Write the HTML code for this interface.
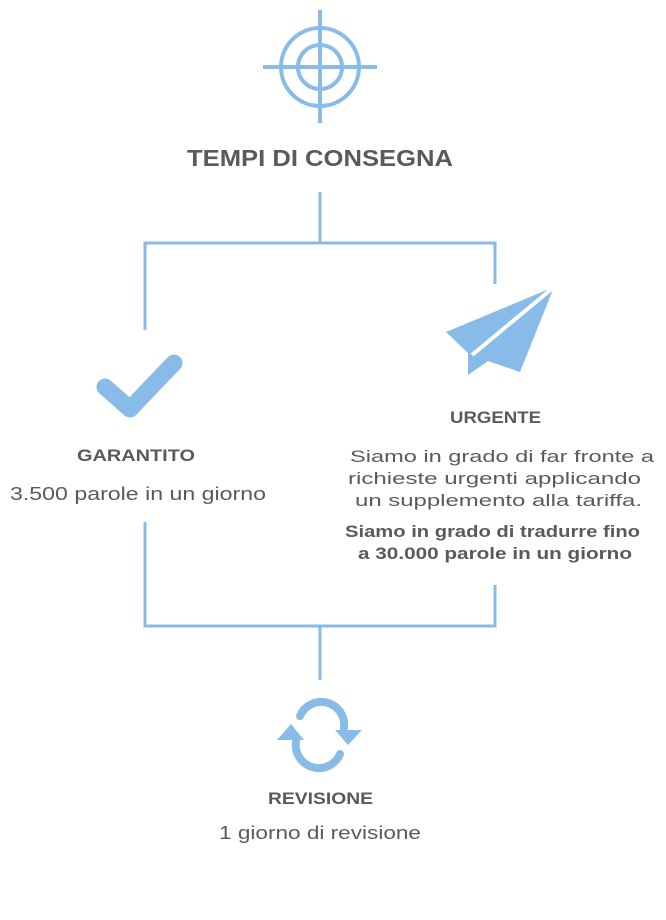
<!DOCTYPE html>
<html><head><meta charset="utf-8"><style>
html,body{margin:0;padding:0;background:#fff;}
svg{display:block;}
text{font-family:"Liberation Sans",sans-serif;fill:#5a5a5a;}
.b{font-weight:bold;}
</style></head><body>
<svg width="666" height="920" viewBox="0 0 666 920" xmlns="http://www.w3.org/2000/svg">
<g stroke="#88bbe8" stroke-width="4" fill="none">
<circle cx="320" cy="67" r="39"/>
<circle cx="320" cy="67" r="22"/>
<line x1="263" y1="67" x2="377" y2="67"/>
<line x1="320" y1="10" x2="320" y2="123"/>
</g>
<g stroke="#88bbe8" stroke-width="3" fill="none">
<polyline points="320,192 320,243"/>
<polyline points="145,330 145,243 495,243 495,284"/>
<polyline points="145,522 145,626 495,626 495,585"/>
<line x1="320" y1="626" x2="320" y2="680"/>
</g>
<polyline points="105,387 130,409 174,363" stroke="#88bbe8" stroke-width="17" stroke-linecap="round" stroke-linejoin="round" fill="none"/>
<polygon points="554,287 446,332 468,353 468,375 488,361 520,372" fill="#88bbe8"/>
<line x1="554" y1="287" x2="472" y2="355" stroke="#fff" stroke-width="4"/>
<g stroke="#88bbe8" stroke-width="8" fill="none" stroke-linecap="round">
<path d="M300 716 A23 23 0 0 1 344 728"/>
<path d="M340 754 A23 23 0 0 1 296 742"/>
</g>
<g fill="#88bbe8">
<polygon points="335,730 362,730 348,745"/>
<polygon points="277,740 304,740 291,724"/>
</g>
<text x="187" y="166" textLength="266" lengthAdjust="spacingAndGlyphs" font-size="23" class="b">TEMPI DI CONSEGNA</text>
<text x="77" y="461" textLength="118" lengthAdjust="spacingAndGlyphs" font-size="17" class="b">GARANTITO</text>
<text x="10" y="500" textLength="256" lengthAdjust="spacingAndGlyphs" font-size="18">3.500 parole in un giorno</text>
<text x="450" y="423" textLength="91" lengthAdjust="spacingAndGlyphs" font-size="17" class="b">URGENTE</text>
<text x="350" y="462" textLength="304" lengthAdjust="spacingAndGlyphs" font-size="17">Siamo in grado di far fronte a</text>
<text x="348" y="484" textLength="293" lengthAdjust="spacingAndGlyphs" font-size="17">richieste urgenti applicando</text>
<text x="355" y="506" textLength="287" lengthAdjust="spacingAndGlyphs" font-size="17">un supplemento alla tariffa.</text>
<text x="345" y="537" textLength="295" lengthAdjust="spacingAndGlyphs" font-size="17" class="b">Siamo in grado di tradurre fino</text>
<text x="358" y="559" textLength="274" lengthAdjust="spacingAndGlyphs" font-size="17" class="b">a 30.000 parole in un giorno</text>
<text x="268" y="804" textLength="105" lengthAdjust="spacingAndGlyphs" font-size="17" class="b">REVISIONE</text>
<text x="219" y="839" textLength="202" lengthAdjust="spacingAndGlyphs" font-size="18">1 giorno di revisione</text>
</svg>
</body></html>
